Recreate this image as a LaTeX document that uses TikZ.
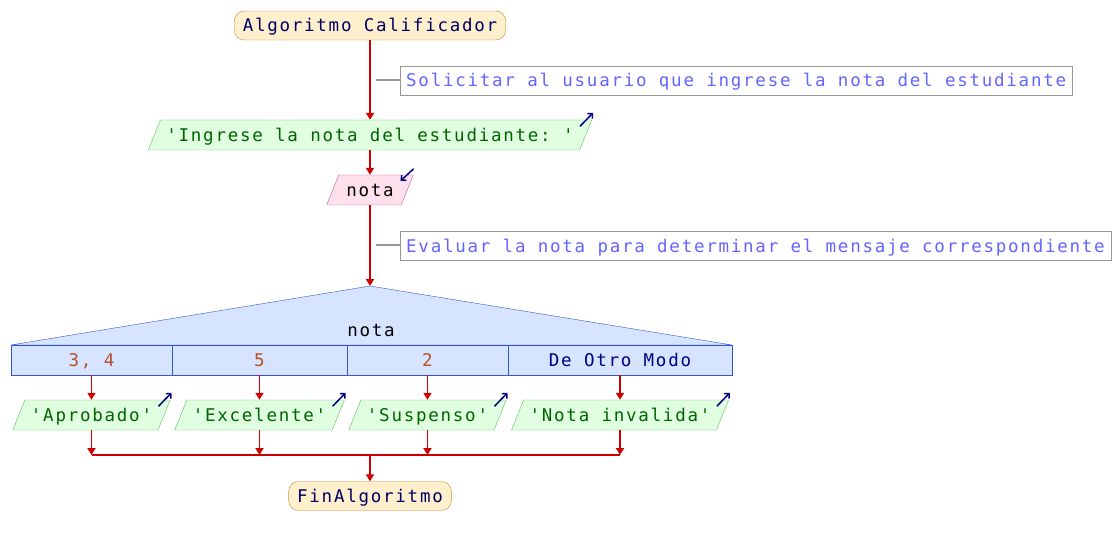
\documentclass[tikz,border=0pt]{standalone}
\usepackage{fontspec}
\setmonofont[LetterSpace=10]{DejaVu Sans Mono}
\usetikzlibrary{shapes.geometric,arrows.meta}
\definecolor{rojo}{RGB}{204,0,0}
\definecolor{fondoTerm}{RGB}{255,240,205}
\definecolor{bordeTerm}{RGB}{204,136,51}
\definecolor{textoTerm}{RGB}{0,0,100}
\definecolor{fondoSal}{RGB}{224,255,224}
\definecolor{bordeSal}{RGB}{90,190,90}
\definecolor{textoSal}{RGB}{0,100,0}
\definecolor{fondoEnt}{RGB}{255,225,238}
\definecolor{bordeEnt}{RGB}{200,90,140}
\definecolor{fondoSw}{RGB}{214,228,255}
\definecolor{bordeSw}{RGB}{51,85,204}
\definecolor{textoCaso}{RGB}{180,80,40}
\definecolor{textoCom}{RGB}{100,100,255}
\definecolor{bordeCom}{RGB}{150,150,150}
\definecolor{icono}{RGB}{0,0,128}
\begin{document}
\begin{tikzpicture}[x=1pt,y=-1pt,
    every node/.style={font=\ttfamily\fontsize{17.5}{19}\selectfont,text height=14.75pt,text depth=1.75pt},
    terminal/.style={draw=bordeTerm,fill=fondoTerm,text=textoTerm,rounded corners=10pt,inner xsep=8.5pt,inner ysep=6.25pt},
    comentario/.style={draw=bordeCom,text=textoCom,anchor=west,inner xsep=6pt,inner ysep=6.25pt},
    salida/.style={trapezium,trapezium left angle=68,trapezium right angle=112,draw=bordeSal,fill=fondoSal,text=textoSal,inner xsep=6pt,inner ysep=6.75pt},
    entrada/.style={trapezium,trapezium left angle=68,trapezium right angle=112,draw=bordeEnt,fill=fondoEnt,text=black,inner xsep=7.5pt,inner ysep=6.75pt},
    caso/.style={draw=bordeSw,fill=fondoSw,text=textoCaso,minimum height=30pt,inner sep=0pt,outer sep=0pt},
    flujo/.style={rojo,line width=1.8pt,-{Triangle[width=8pt,length=7pt]}},
    iconito/.style={icono,line width=1.5pt,-{Straight Barb[width=7pt,length=3.5pt]}}]
  \useasboundingbox (0,0) rectangle (1118,545);

  \node[terminal] (inicio) at (370,25.5) {Algoritmo Calificador};
  \node[comentario] (com1) at (400,80.5) {Solicitar al usuario que ingrese la nota del estudiante};
  \node[salida] (msj) at (370,135) {'Ingrese la nota del estudiante: '};
  \node[entrada] (leer) at (370,190) {nota};
  \node[comentario] (com2) at (400,245.5) {Evaluar la nota para determinar el mensaje correspondiente};
  \coordinate (sw) at (370,286);

  \draw[flujo] (inicio) -- (msj);
  \draw[bordeCom,line width=2pt] (com1.west) -- ++(-24,0);
  \draw[flujo] (msj) -- (leer);
  \draw[flujo] (leer) -- (sw);
  \draw[bordeCom,line width=2pt] (com2.west) -- ++(-24,0);
  \draw[iconito] ([shift={(-12,6.5)}]msj.top right corner) -- ([shift={(1,-7)}]msj.top right corner);
  \draw[iconito] ([shift={(0,-6)}]leer.top right corner) -- ([shift={(-13,6)}]leer.top right corner);

  \filldraw[fill=fondoSw,draw=bordeSw] (sw) -- (732,345) -- (11,345) -- cycle;
  \node[text=black] (var) at (371,330) {nota};
  \node[caso,minimum width=161pt] (k1) at (91.5,360) {3, 4};
  \node[caso,minimum width=175pt] (k2) at (259.5,360) {5};
  \node[caso,minimum width=161pt] (k3) at (427.5,360) {2};
  \node[caso,minimum width=224pt,text=icono] (k4) at (620,360) {De Otro Modo};

  \node[salida] (o1) at (91.5,415) {'Aprobado'};
  \node[salida] (o2) at (259.5,415) {'Excelente'};
  \node[salida] (o3) at (427.5,415) {'Suspenso'};
  \node[salida] (o4) at (620,415) {'Nota invalida'};
  \draw[flujo] (k1) -- (o1);
  \draw[flujo] (k2) -- (o2);
  \draw[flujo] (k3) -- (o3);
  \draw[flujo] (k4) -- (o4);
  \draw[iconito] ([shift={(-12,6.5)}]o1.top right corner) -- ([shift={(1,-7)}]o1.top right corner);
  \draw[iconito] ([shift={(-12,6.5)}]o2.top right corner) -- ([shift={(1,-7)}]o2.top right corner);
  \draw[iconito] ([shift={(-12,6.5)}]o3.top right corner) -- ([shift={(1,-7)}]o3.top right corner);
  \draw[iconito] ([shift={(-12,6.5)}]o4.top right corner) -- ([shift={(1,-7)}]o4.top right corner);

  \coordinate (j1) at (91.5,455);
  \coordinate (j2) at (259.5,455);
  \coordinate (j3) at (427.5,455);
  \coordinate (j4) at (620,455);
  \coordinate (jm) at (370,455);
  \node[terminal] (fin) at (370,496) {FinAlgoritmo};
  \draw[flujo] (o1) -- (j1);
  \draw[flujo] (o2) -- (j2);
  \draw[flujo] (o3) -- (j3);
  \draw[flujo] (o4) -- (j4);
  \draw[rojo,line width=1.8pt] (j1) -- (j4);
  \draw[flujo] (jm) -- (fin);
\end{tikzpicture}
\end{document}
